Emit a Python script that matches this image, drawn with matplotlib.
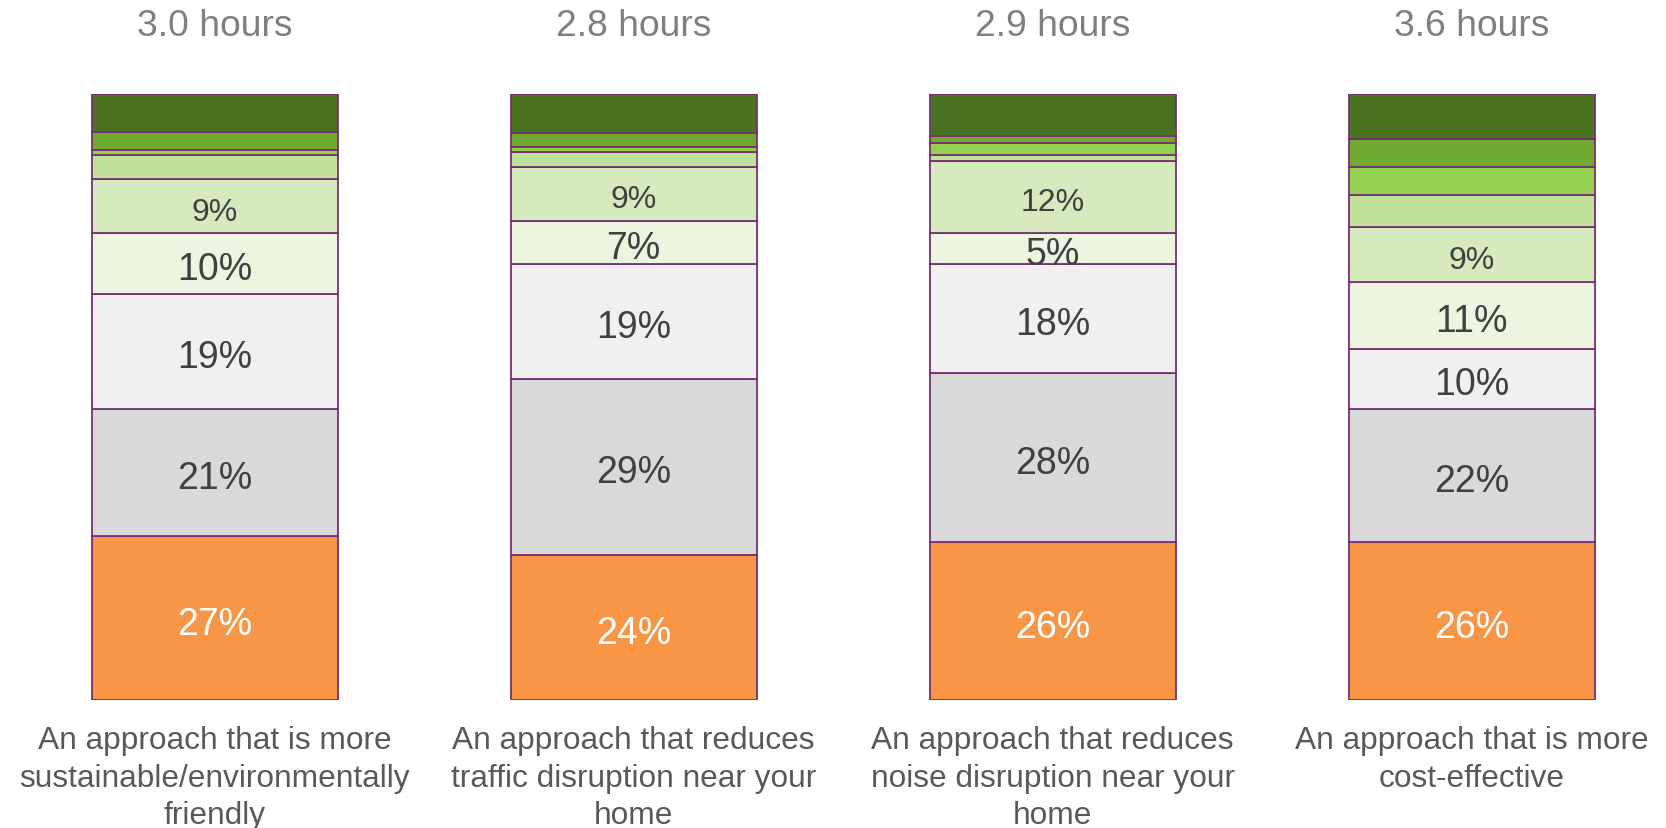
import matplotlib.pyplot as plt
import numpy as np

plt.rcParams['font.family'] = ['Liberation Sans', 'DejaVu Sans']

hours = ["3.0 hours", "2.8 hours", "2.9 hours", "3.6 hours"]
approaches = [
    "An approach that is more\nsustainable/environmentally\nfriendly",
    "An approach that reduces\ntraffic disruption near your\nhome",
    "An approach that reduces\nnoise disruption near your\nhome",
    "An approach that is more\ncost-effective",
]

# share of respondents per answer band, bottom band first
band_1 = [27, 24, 26, 26]
band_2 = [21, 29, 28, 22]
band_3 = [19, 19, 18, 10]
band_4 = [10, 7, 5, 11]
band_5 = [9, 9, 12, 9]
band_6 = [4, 2.5, 0.9, 5.4]
band_7 = [0.7, 0.8, 2, 4.6]
band_8 = [3, 2.3, 1.1, 4.6]
band_9 = [6.3, 6.4, 7, 7.4]

bands = [band_1, band_2, band_3, band_4, band_5, band_6, band_7, band_8, band_9]
colors = ["#f79646", "#d9d9d9", "#f0f0f0", "#ebf5df", "#d5ebbd",
          "#c0e19a", "#92d050", "#6fa82f", "#4a7220"]
labelled = 5  # only the first five bands carry a value label

fig = plt.figure(figsize=(16.66, 8.29), dpi=100)
ax = fig.add_axes([0, 0.1544, 1, 0.731])

x = np.arange(len(hours))
width = 0.587
bottom = np.zeros(len(hours))
for i, (vals, col) in enumerate(zip(bands, colors)):
    vals = np.array(vals, dtype=float)
    ax.bar(x, vals, width, bottom=bottom, color=col,
           edgecolor="#7a2e74", linewidth=1.3)
    if i < labelled:
        for j in range(len(hours)):
            size = 23 if i == 4 else 27
            tc = "white" if i == 0 else "#404040"
            ax.text(x[j], bottom[j] + vals[j] / 2 - 0.9, f"{vals[j]:.0f}%",
                    ha="center", va="center", fontsize=size, color=tc)
    bottom += vals

ax.set_xlim(-0.512, 3.464)
ax.set_ylim(0, 100)
ax.axis("off")

for j in range(len(hours)):
    ax.text(x[j], 111.3, hours[j], ha="center", va="center",
            fontsize=26.8, color="#7f7f7f")
    ax.text(x[j], -4.2, approaches[j], ha="center", va="top",
            fontsize=22.8, color="#595959", linespacing=1.31)

fig.savefig("out.png", dpi=100)
